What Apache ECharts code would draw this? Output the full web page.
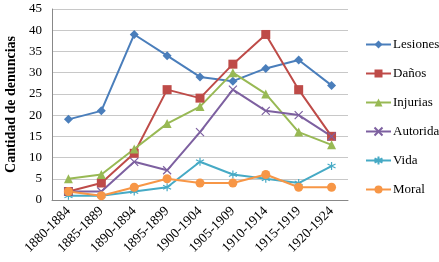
<!DOCTYPE html>
<html>
<head>
<meta charset="utf-8">
<script src="https://cdn.jsdelivr.net/npm/echarts@6/dist/echarts.min.js"></script>
<style>
html, body { margin: 0; padding: 0; background: #fff; }
#chart { width: 439px; height: 262px; }
</style>
</head>
<body>
<div id="chart"></div>
<script>
// datos
const periodos = ['1880-1884', '1885-1889', '1890-1894', '1895-1899', '1900-1904', '1905-1909', '1910-1914', '1915-1919', '1920-1924'];
const lesiones = [19, 21, 39, 34, 29, 28, 31, 33, 27];
const danos = [2, 4, 11, 26, 24, 32, 39, 26, 15];
const injurias = [5, 6, 12, 18, 22, 30, 25, 16, 13];
const autoridad = [2, 2, 9, 7, 16, 26, 21, 20, 15];
const vida = [1, 1, 2, 3, 9, 6, 5, 4, 8];
const moral = [2, 1, 3, 5, 4, 4, 6, 3, 3];

const serif = 'Liberation Serif';
const cruz = 'path://M0,0L10,10M10,0L0,10';
const estrella = 'path://M5,0L5,10M0,2.5L10,7.5M0,7.5L10,2.5';

function serie(nombre, datos, color, simbolo, tam) {
    return {
        name: nombre,
        type: 'line',
        data: datos,
        symbol: simbolo,
        symbolSize: tam,
        showAllSymbol: true,
        lineStyle: { color: color, width: 2 },
        itemStyle: { color: color, borderColor: color, borderWidth: (simbolo === cruz || simbolo === estrella) ? 1.2 : 0 },
        emphasis: { disabled: true }
    };
}

const chart = echarts.init(document.getElementById('chart'));
chart.setOption({
    animation: false,
    color: ['#4a7ebb', '#be4b48', '#98b954', '#7d60a0', '#46aac5', '#f79646'],
    grid: { left: 52, right: 91, top: 9, bottom: 62, outerBoundsMode: 'none', containLabel: false },
    legend: {
        orient: 'vertical',
        left: 360,
        top: 33,
        itemGap: 16,
        itemWidth: 25,
        itemHeight: 10,
        textStyle: { fontFamily: serif, fontSize: 13, color: '#000', padding: [0, 0, 0, -3] },
        data: ['Lesiones', 'Daños', 'Injurias', 'Autoridad', 'Vida', 'Moral']
    },
    xAxis: {
        type: 'category',
        data: periodos,
        boundaryGap: true,
        axisLine: { lineStyle: { color: '#888' } },
        axisTick: { show: false },
        axisLabel: { rotate: 45, interval: 0, fontFamily: serif, fontSize: 13.5, color: '#000', margin: 9 }
    },
    yAxis: {
        type: 'value',
        min: 0,
        max: 45,
        interval: 5,
        name: 'Cantidad de denuncias',
        nameLocation: 'middle',
        nameGap: 31,
        nameTextStyle: { fontFamily: serif, fontSize: 14, fontWeight: 'bold', color: '#000' },
        axisLine: { show: true, lineStyle: { color: '#888' } },
        axisTick: { show: false },
        axisLabel: { fontFamily: serif, fontSize: 13, color: '#000', margin: 10 },
        splitLine: { lineStyle: { color: '#c8c8c8' } }
    },
    series: [
        serie('Lesiones', lesiones, '#4a7ebb', 'diamond', 9),
        serie('Daños', danos, '#be4b48', 'rect', 9),
        serie('Injurias', injurias, '#98b954', 'triangle', 9),
        serie('Autoridad', autoridad, '#7d60a0', cruz, 8),
        serie('Vida', vida, '#46aac5', estrella, 8),
        serie('Moral', moral, '#f79646', 'circle', 9)
    ]
});
</script>
</body>
</html>
